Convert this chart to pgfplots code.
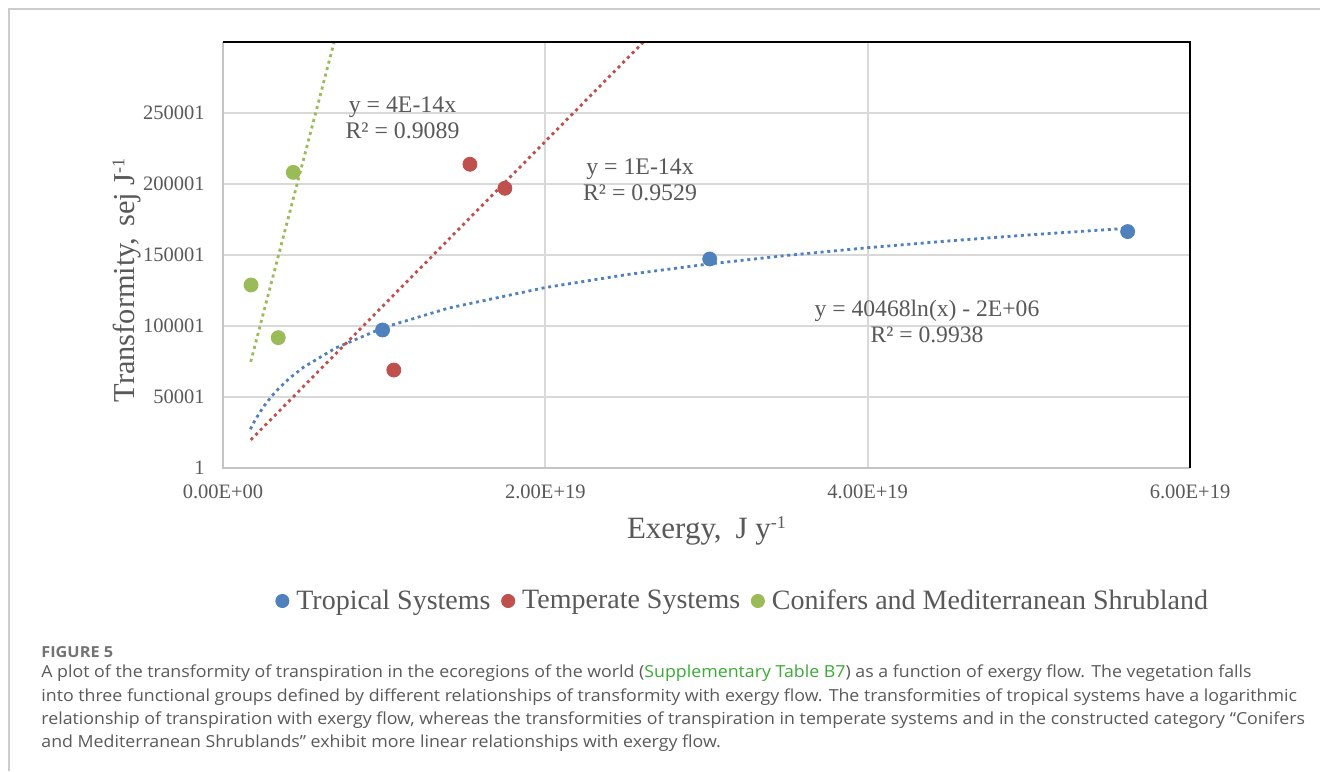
\documentclass[border=0pt]{standalone}
\usepackage{pgfplots}
\pgfplotsset{compat=1.18}
\usepackage{fontspec}
\setmainfont{Liberation Serif}
\newfontfamily\capfont[FakeStretch=1.07]{Open Sans}
\definecolor{exblue}{HTML}{4F81BD}
\definecolor{exred}{HTML}{C0504D}
\definecolor{exgreen}{HTML}{9BBB59}
\definecolor{txtgray}{HTML}{595959}
\definecolor{gridgray}{HTML}{D9D9D9}
\definecolor{axgray}{HTML}{C4C4C4}
\definecolor{capgray}{HTML}{5A5A5A}
\definecolor{capgreen}{HTML}{3AAA35}
\begin{document}
\begin{tikzpicture}
\useasboundingbox (0pt,0pt) rectangle (660pt,-385.5pt);
\fill[white] (0pt,0pt) rectangle (660pt,-385.5pt);
\draw[black!20, line width=0.8pt] (4.5pt,-385.5pt) -- (4.5pt,-4.5pt) -- (660pt,-4.5pt);
\begin{axis}[
  at={(111.5pt,-234pt)}, anchor=south west,
  scale only axis, width=483.5pt, height=213pt,
  xmin=0, xmax=6e19, ymin=1, ymax=300001,
  scaled x ticks=false, scaled y ticks=false,
  clip mode=individual,
  axis line style={draw=none},
  tick style={draw=none},
  major tick length=0pt,
  xtick={0,2e19,4e19,6e19},
  xticklabels={0.00E+00,2.00E+19,4.00E+19,6.00E+19},
  ytick={1,50001,100001,150001,200001,250001,300001},
  yticklabels={1,50001,100001,150001,200001,250001,{}},
  xmajorgrids, ymajorgrids,
  major grid style={draw=gridgray, line width=1pt},
  /pgf/number format/assume math mode=true,
  ticklabel style={font=\fontsize{10.25}{12}\selectfont, text=txtgray},
  xticklabel shift=5pt, yticklabel shift=5.6pt,
  legend columns=3,
  legend cell align=left,
  legend style={draw=none, fill=none, at={(0.5387,-0.3122)}, anchor=center,
    font=\fontsize{14}{16}\selectfont, text=txtgray, inner sep=0pt,
    /tikz/every even column/.append style={column sep=3.5pt}},
  legend image code/.code={\draw[#1, mark size=3.3pt] plot coordinates {(0pt,0pt)};\path (4.8pt,0pt);},
]
% trend lines
\addplot[exblue, line width=1.4pt, dash pattern=on 1.5pt off 1.85pt, forget plot] coordinates {
(0.17e19,27325) (0.2e19,33904) (0.25e19,42945) (0.3e19,50312) (0.35e19,56551)
(0.42e19,63927) (0.5e19,70984) (0.7e19,84600) (1.0e19,99034) (1.4e19,112651)
(2.0e19,127084) (2.5e19,136115) (3.0e19,143492) (3.5e19,149732) (4.0e19,155135)
(4.5e19,159902) (5.0e19,164164) (5.61e19,168825)};
\addplot[exred, line width=1.4pt, dash pattern=on 1.5pt off 1.85pt, forget plot] coordinates {
(0.172e19,19780) (2.7e19,310500)};
\addplot[exgreen, line width=1.4pt, dash pattern=on 1.5pt off 1.85pt, forget plot] coordinates {
(0.172e19,74800) (0.70e19,304500)};
% data
\addplot[only marks, mark=*, mark size=3.5pt, draw=exblue, fill=exblue] coordinates {
(0.990e19,97200) (3.02e19,147200) (5.613e19,166500)};
\addlegendentry{Tropical Systems}
\addplot[only marks, mark=*, mark size=3.5pt, draw=exred, fill=exred] coordinates {
(1.060e19,69000) (1.532e19,213900) (1.749e19,197000)};
\addlegendentry{Temperate Systems}
\addplot[only marks, mark=*, mark size=3.5pt, draw=exgreen, fill=exgreen] coordinates {
(0.174e19,128900) (0.343e19,91800) (0.436e19,208200)};
\addlegendentry{Conifers and Mediterranean Shrubland}
\draw[axgray, line width=1pt] (rel axis cs:0,1) -- (rel axis cs:0,0) -- (rel axis cs:1,0);
\draw[black, line width=1.3pt] (rel axis cs:0,1) -- (rel axis cs:1,1) -- (rel axis cs:1,0);
\end{axis}
% trend labels
\node[font=\fontsize{11.9}{13}\selectfont, text=txtgray, align=center] at (201.25pt,-59pt) {y = 4E-14x\\R² = 0.9089};
\node[font=\fontsize{11.9}{13}\selectfont, text=txtgray, align=center] at (320pt,-90pt) {y = 1E-14x\\R² = 0.9529};
\node[font=\fontsize{11.8}{13}\selectfont, text=txtgray, align=center] at (463.5pt,-160.75pt) {y = 40468ln(x) - 2E+06\\R² = 0.9938};
% axis titles
\node[font=\fontsize{15.2}{18}\selectfont, text=txtgray, rotate=90] at (63.5pt,-140pt) {Transformity,\hspace{0.35em}sej J\textsuperscript{\fontsize{9}{10}\selectfont -1}};
\node[font=\fontsize{15.5}{18}\selectfont, text=txtgray] at (353.5pt,-265.5pt) {Exergy,\hspace{0.45em}J y\textsuperscript{\fontsize{9}{10}\selectfont -1}};
% caption
\begin{scope}[every node/.style={anchor=west, inner sep=0pt, text=capgray}]
\node[font=\capfont\bfseries\fontsize{7.6}{9}\selectfont, text=capgray!85] at (20.5pt,-326pt) {FIGURE 5};
\node[font=\capfont\fontsize{8.3}{10}\selectfont] at (20.5pt,-336.5pt) {A plot of the transformity of transpiration in the ecoregions of the world (\textcolor{capgreen}{Supplementary Table B7}) as a function of exergy flow. The vegetation falls};
\node[font=\capfont\fontsize{8.3}{10}\selectfont] at (20.5pt,-348.5pt) {into three functional groups defined by different relationships of transformity with exergy flow. The transformities of tropical systems have a logarithmic};
\node[font=\capfont\fontsize{8.3}{10}\selectfont] at (20.5pt,-360pt) {relationship of transpiration with exergy flow, whereas the transformities of transpiration in temperate systems and in the constructed category “Conifers};
\node[font=\capfont\fontsize{8.3}{10}\selectfont] at (20.5pt,-371.5pt) {and Mediterranean Shrublands” exhibit more linear relationships with exergy flow.};
\end{scope}
\end{tikzpicture}
\end{document}
